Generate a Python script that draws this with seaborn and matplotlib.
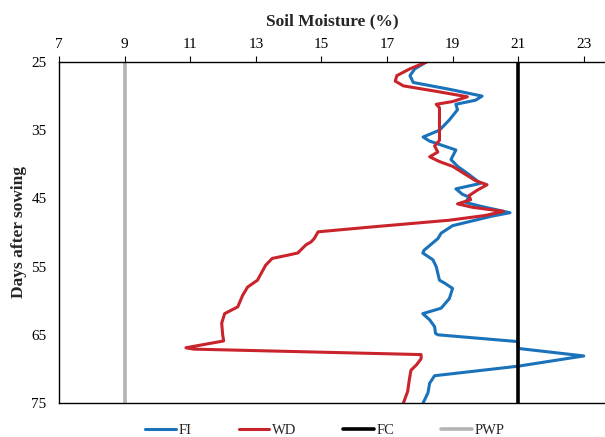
import numpy as np
import pandas as pd
import matplotlib
matplotlib.use('Agg')
import matplotlib.pyplot as plt
import seaborn as sns

# Datos (dias despues de siembra vs humedad del suelo %)
fi_days = [25, 26, 27, 28, 29, 30, 30.6, 31.2, 32, 33.5, 35, 36, 36.6, 37.9, 39.3,
           40.3, 41.5, 42.8, 43.6, 44.4, 44.8, 45.6, 46.2, 47.1, 47.6, 49, 50.1, 50.9,
           52.6, 53, 54, 55, 57, 57.4, 58.2, 59.7, 61.1, 61.9, 62.8, 63.8, 64.8, 65,
           66, 67, 68.1, 69.6, 71, 72.1, 73.5, 75]
fi_moist = [18.2, 17.85, 17.7, 17.8, 18.9, 19.9, 19.7, 19.1, 19.15, 18.9, 18.6, 18.1,
            18.3, 19.1, 18.95, 19.15, 19.5, 19.85, 19.1, 19.3, 19.5, 19.4, 19.9, 20.75,
            20.2, 19.0, 18.65, 18.55, 18.13, 18.09, 18.4, 18.5, 18.6, 18.75, 19.0, 18.9,
            18.65, 18.09, 18.3, 18.45, 18.48, 18.55, 21.0, 21.0, 23.0, 21.0, 18.45, 18.3,
            18.25, 18.1]

wd_days = [25, 26, 27, 27.8, 28.5, 29.3, 30.1, 30.8, 31.2, 31.7, 33, 35, 36.5, 37.3,
           38.2, 38.9, 39.6, 40.3, 41.5, 42.4, 43, 43.8, 44.6, 45.2, 45.8, 46.3, 46.9,
           47.5, 48.2, 49.2, 49.9, 50.9, 51.4, 51.8, 53, 53.3, 53.8, 54.8, 57, 58, 59.2,
           60.9, 61.4, 61.9, 63.3, 65, 65.9, 66.9, 67.1, 67.9, 68.5, 69.4, 70.2, 71.6,
           73.3, 75]
wd_moist = [18.2, 17.7, 17.3, 17.25, 17.5, 18.5, 19.45, 19.0, 18.5, 18.6, 18.6, 18.6,
            18.6, 18.45, 18.55, 18.3, 18.6, 19.0, 19.4, 19.7, 20.05, 19.75, 19.5, 19.55,
            19.15, 19.6, 20.55, 20.0, 18.9, 16.5, 14.9, 14.78, 14.68, 14.53, 14.28, 14.0,
            13.5, 13.3, 13.05, 12.75, 12.6, 12.45, 12.25, 12.05, 11.96, 11.99, 12.02,
            10.87, 11.1, 18.04, 18.04, 17.9, 17.73, 17.68, 17.63, 17.5]

fc_value = 21
pwp_value = 9
day_range = [25, 75]

x_ticks = [7, 9, 11, 13, 15, 17, 19, 21, 23]
y_ticks = [25, 35, 45, 55, 65, 75]

sns.set_style('white')
plt.rcParams['font.family'] = ['Liberation Serif', 'DejaVu Serif']

fig = plt.figure(figsize=(6.05, 4.37), dpi=100)
ax = fig.add_axes([59/605, 34/437, 1 - 59/605, (403-62)/437])

sns.lineplot(x=fi_moist, y=fi_days, sort=False, estimator=None, color='#1a72bb',
             linewidth=2.2, label='FI', ax=ax)
sns.lineplot(x=wd_moist, y=wd_days, sort=False, estimator=None, color='#c9232c',
             linewidth=2.2, label='WD', ax=ax)
sns.lineplot(x=[fc_value, fc_value], y=day_range, sort=False, estimator=None,
             color='black', linewidth=2.6, label='FC', ax=ax)
sns.lineplot(x=[pwp_value, pwp_value], y=day_range, sort=False, estimator=None,
             color='#b4b4b4', linewidth=2.6, label='PWP', ax=ax)

ax.set_xlim(7, 7 + (605-59)/32.8)
ax.set_ylim(75, 25)
ax.set_xticks(x_ticks)
ax.set_yticks(y_ticks)
ax.xaxis.tick_top()
ax.xaxis.set_label_position('top')
ax.set_xlabel('Soil Moisture (%)', fontsize=12.5, fontweight='bold', labelpad=9)
ax.set_ylabel('Days after sowing', fontsize=12.5, fontweight='bold', labelpad=3)
ax.tick_params(axis='x', direction='out', length=4, width=0.8, pad=4, labelsize=11, colors='black')
ax.tick_params(axis='y', direction='out', length=3, width=0.8, pad=6, labelsize=11, colors='black')
for s in ['top', 'left', 'bottom']:
    ax.spines[s].set_color('black')
    ax.spines[s].set_linewidth(1.0)
ax.spines['right'].set_visible(False)
ax.grid(False)

handles, labels = ax.get_legend_handles_labels()
ax.get_legend().remove()
fig.legend(handles=handles, labels=labels,
           loc='center', bbox_to_anchor=(325/605, 1 - 430/437), ncol=4, frameon=False,
           fontsize=10.5, handlelength=2.1, columnspacing=3.2, handletextpad=0.2)

fig.savefig('out.png', dpi=100)
